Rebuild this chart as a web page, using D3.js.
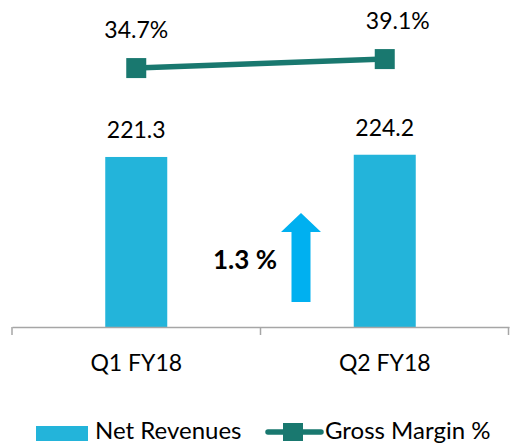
<!DOCTYPE html>
<html>
<head>
<meta charset="utf-8">
<script src="https://cdn.jsdelivr.net/npm/d3@7"></script>
<style>
  body { margin: 0; background: #fff; }
  text { font-family: Lato, 'Open Sans', sans-serif; fill: #000; }
</style>
</head>
<body>
<div id="chart"></div>
<script>
const quarters = ['Q1 FY18', 'Q2 FY18']
const netRevenues = [221.3, 224.2]
const grossMargin = [34.7, 39.1]
const growthLabel = '1.3 %'

const W = 510
const H = 445
const margin = { top: 0, left: 12, right: 1, bottom: 118 }
const baseY = H - margin.bottom

const svg = d3
  .select('#chart')
  .append('svg')
  .attr('width', W)
  .attr('height', H)

const x = d3
  .scaleBand()
  .domain(quarters)
  .range([margin.left, W - margin.right])

const barW = 62
const yBar = d3.scaleLinear().domain([0, 300]).range([baseY, baseY - 230.5])
const yLine = d3.scaleLinear().domain([0, 50]).range([139, 36.8])

const barColor = '#23b4da'
const lineColor = '#19786f'

// bars
svg
  .selectAll('rect.bar')
  .data(netRevenues)
  .enter()
  .append('rect')
  .attr('class', 'bar')
  .attr('x', (d, i) => x(quarters[i]) + x.bandwidth() / 2 - barW / 2)
  .attr('y', d => yBar(d))
  .attr('width', barW)
  .attr('height', d => baseY - yBar(d))
  .attr('fill', barColor)

svg
  .selectAll('text.barlbl')
  .data(netRevenues)
  .enter()
  .append('text')
  .attr('class', 'barlbl')
  .attr('x', (d, i) => x(quarters[i]) + x.bandwidth() / 2)
  .attr('y', d => yBar(d) - 19)
  .attr('text-anchor', 'middle')
  .attr('font-size', 23)
  .text(d => d.toFixed(1))

// x axis
const xAxis = d3.axisBottom(x).tickSize(0).tickFormat(d => d)
const gx = svg
  .append('g')
  .attr('transform', 'translate(0,' + baseY + ')')
  .call(xAxis)
gx.select('.domain').attr('stroke', '#a6a6a6').attr('stroke-width', 1.5)
gx.selectAll('.tick text')
  .attr('font-size', 23)
  .attr('dy', 0)
  .attr('y', 44)
  .style('font-family', 'Lato, sans-serif')
  .attr('fill', '#000')

// category boundary ticks
const bounds = [margin.left, x(quarters[1]), W - margin.right - 0.5]
svg
  .selectAll('line.sep')
  .data(bounds)
  .enter()
  .append('line')
  .attr('x1', d => d)
  .attr('x2', d => d)
  .attr('y1', baseY)
  .attr('y2', baseY + 8)
  .attr('stroke', '#a6a6a6')
  .attr('stroke-width', 1.5)

// gross margin line
const cx = i => x(quarters[i]) + x.bandwidth() / 2
const line = d3
  .line()
  .x((d, i) => cx(i))
  .y(d => yLine(d))
svg
  .append('path')
  .datum(grossMargin)
  .attr('d', line)
  .attr('fill', 'none')
  .attr('stroke', lineColor)
  .attr('stroke-width', 5.5)

svg
  .selectAll('rect.mk')
  .data(grossMargin)
  .enter()
  .append('rect')
  .attr('class', 'mk')
  .attr('x', (d, i) => cx(i) - 10)
  .attr('y', d => yLine(d) - 10)
  .attr('width', 20)
  .attr('height', 20)
  .attr('fill', lineColor)

const lblShift = [0, 13]
svg
  .selectAll('text.gm')
  .data(grossMargin)
  .enter()
  .append('text')
  .attr('class', 'gm')
  .attr('x', (d, i) => cx(i) + lblShift[i])
  .attr('y', d => yLine(d) - 30)
  .attr('text-anchor', 'middle')
  .attr('font-size', 23)
  .text(d => d.toFixed(1) + '%')

// growth arrow
const ax = 301
const arrow = d3.path()
arrow.moveTo(ax - 9.5, 302)
arrow.lineTo(ax - 9.5, 232)
arrow.lineTo(ax - 20, 232)
arrow.lineTo(ax, 213)
arrow.lineTo(ax + 20, 232)
arrow.lineTo(ax + 9.5, 232)
arrow.lineTo(ax + 9.5, 302)
arrow.closePath()
svg.append('path').attr('d', arrow.toString()).attr('fill', '#00b0f0')

svg
  .append('text')
  .attr('x', 277)
  .attr('y', 269)
  .attr('text-anchor', 'end')
  .attr('font-size', 26)
  .attr('font-weight', 'bold')
  .text(growthLabel)

// legend
const lg = svg.append('g')
lg.append('rect')
  .attr('x', 36)
  .attr('y', 426)
  .attr('width', 52)
  .attr('height', 15)
  .attr('fill', barColor)
lg.append('text')
  .attr('x', 95)
  .attr('y', 439)
  .attr('font-size', 24)
  .text('Net Revenues')
lg.append('line')
  .attr('x1', 268)
  .attr('x2', 321)
  .attr('y1', 432)
  .attr('y2', 432)
  .attr('stroke', lineColor)
  .attr('stroke-width', 5.5)
  .attr('stroke-linecap', 'round')
lg.append('rect')
  .attr('x', 283)
  .attr('y', 423)
  .attr('width', 20)
  .attr('height', 18)
  .attr('fill', lineColor)
lg.append('text')
  .attr('x', 325)
  .attr('y', 439)
  .attr('font-size', 24)
  .text('Gross Margin %')
</script>
</body>
</html>
